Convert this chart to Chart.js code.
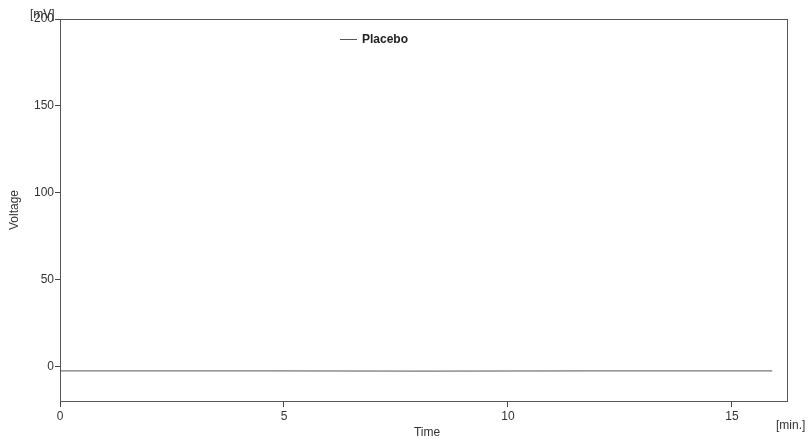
<!DOCTYPE html>
<html>
<head>
<meta charset="utf-8">
<script src="https://cdn.jsdelivr.net/npm/chart.js@4/dist/chart.umd.min.js"></script>
<style>
  html, body { margin: 0; padding: 0; background: #fff; }
  #wrap { width: 809px; height: 439px; }
</style>
</head>
<body>
<div id="wrap"><canvas id="chart" width="809" height="439"></canvas></div>
<script>
// data
const timeMin = [0, 1.8, 3.2, 4.7, 8.1, 11.8, 12.9, 14.6, 15.9];
const placebo = [-2.6, -2.7, -2.6, -2.7, -2.8, -2.7, -2.6, -2.7, -2.6];
const yTicks = [0, 50, 100, 150, 200];
const xTicks = [0, 5, 10, 15];

const FONT = "'Liberation Sans', Arial, sans-serif";

// frame, axis captions and legend
const decorations = {
  id: 'decorations',
  afterDraw(chart) {
    const { ctx, chartArea: a } = chart;
    ctx.save();
    ctx.strokeStyle = '#555';
    ctx.lineWidth = 1;
    ctx.strokeRect(a.left + 0.5, a.top + 0.5, a.right - a.left, a.bottom - a.top);

    ctx.fillStyle = '#333';
    ctx.font = '12px ' + FONT;
    ctx.textBaseline = 'middle';
    ctx.textAlign = 'left';
    ctx.fillText('[mV]', 30, 15);
    ctx.fillText('[min.]', 776, 426);
    ctx.textAlign = 'center';
    ctx.fillText('Time', 427, 433);

    ctx.save();
    ctx.translate(15, 210);
    ctx.rotate(-Math.PI / 2);
    ctx.fillText('Voltage', 0, 0);
    ctx.restore();

    // legend
    ctx.strokeStyle = '#555';
    ctx.beginPath();
    ctx.moveTo(340, 39.5);
    ctx.lineTo(357, 39.5);
    ctx.stroke();
    ctx.textAlign = 'left';
    ctx.fillStyle = '#222';
    ctx.font = 'bold 12px ' + FONT;
    ctx.fillText(chart.data.datasets[0].label, 362, 40);
    ctx.restore();
  }
};

new Chart(document.getElementById('chart'), {
  type: 'line',
  data: {
    datasets: [{
      label: 'Placebo',
      data: timeMin.map((t, i) => ({ x: t, y: placebo[i] })),
      borderColor: '#777',
      borderWidth: 1.2,
      pointRadius: 0,
      tension: 0
    }]
  },
  options: {
    responsive: false,
    animation: false,
    layout: { padding: { left: 0, right: 22, top: 19, bottom: 0 } },
    plugins: {
      legend: { display: false },
      tooltip: { enabled: false }
    },
    scales: {
      x: {
        type: 'linear',
        min: 0,
        max: 16.23,
        afterBuildTicks: s => { s.ticks = xTicks.map(v => ({ value: v })); },
        afterFit: s => { s.height = 38; },
        grid: { drawOnChartArea: false, drawTicks: true, tickLength: 6, color: '#444' },
        border: { display: true, color: '#555' },
        ticks: { color: '#333', font: { family: FONT, size: 12 }, padding: 2, maxRotation: 0 }
      },
      y: {
        min: -20,
        max: 200,
        afterBuildTicks: s => { s.ticks = yTicks.map(v => ({ value: v })); },
        afterFit: s => { s.width = 60; },
        grid: { drawOnChartArea: false, drawTicks: true, tickLength: 5, color: '#444' },
        border: { display: true, color: '#555' },
        ticks: { color: '#333', font: { family: FONT, size: 12 }, padding: 1 }
      }
    }
  },
  plugins: [decorations]
});
</script>
</body>
</html>
